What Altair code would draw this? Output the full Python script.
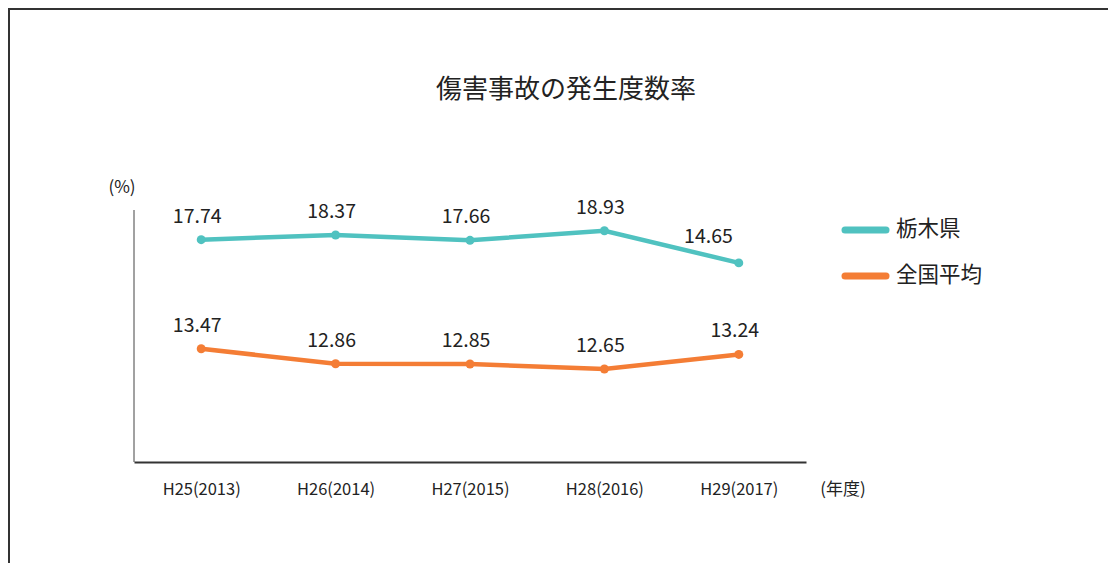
import altair as alt
import pandas as pd

# ---- data ----
years = ["H25(2013)", "H26(2014)", "H27(2015)", "H28(2016)", "H29(2017)"]
series_names = ["栃木県", "全国平均"]
tochigi = [17.74, 18.37, 17.66, 18.93, 14.65]
national = [13.47, 12.86, 12.85, 12.65, 13.24]
colors = ["#50C2C0", "#F47D35"]
title_text = "傷害事故の発生度数率"
y_unit = "(%)"
x_unit = "(年度)"

rows = []
for name, vals in zip(series_names, [tochigi, national]):
    for yr, v in zip(years, vals):
        rows.append({"year": yr, "series": name, "value": v, "label": f"{v:.2f}"})
df = pd.DataFrame(rows)
last_teal = (df["series"] == series_names[0]) & (df["year"] == years[-1])
df_main = df[~last_teal]
df_last = df[last_teal]

FONT = "Noto Sans CJK JP"
W, H = 672, 252

color_scale = alt.Scale(domain=series_names, range=colors)
# piecewise scale, as the original chart is drawn with an uneven vertical scale
y_scale = alt.Scale(domain=[12, 13.5, 14.5, 19.5], range=[175, 138, 54, 16.5], nice=False, zero=False)

x_enc = alt.X("year:N", sort=years, title=None,
              axis=alt.Axis(labelFontSize=16.5, labelFont=FONT, labelColor="#222",
                            ticks=False, domainColor="#333", domainWidth=2,
                            labelPadding=19, labelAngle=0, grid=False))
y_enc = alt.Y("value:Q", scale=y_scale, axis=None)

base = alt.Chart(df)

lines = base.mark_line(strokeWidth=4.5).encode(
    x=x_enc, y=y_enc,
    color=alt.Color("series:N", scale=color_scale, legend=None),
    detail="series:N",
)
points = base.mark_circle(size=80, opacity=1).encode(
    x=alt.X("year:N", sort=years), y=y_enc,
    color=alt.Color("series:N", scale=color_scale, legend=None),
)
labels = alt.Chart(df_main).mark_text(
    fontSize=19.5, font=FONT, color="#222", baseline="middle", dy=-23, dx=-4
).encode(x=alt.X("year:N", sort=years), y=y_enc, text="label:N")
label_last = alt.Chart(df_last).mark_text(
    fontSize=19.5, font=FONT, color="#222", baseline="middle", align="right", dy=-26, dx=-6
).encode(x=alt.X("year:N", sort=years), y=y_enc, text="label:N")

yaxis_line = alt.Chart(pd.DataFrame({"a": [0]})).mark_rule(color="#444", strokeWidth=1).encode(
    x=alt.value(0), y=alt.value(0), y2=alt.value(H)
)

title = alt.Chart(pd.DataFrame({"t": [title_text]})).mark_text(
    fontSize=26, font=FONT, color="#222", baseline="middle", align="center"
).encode(x=alt.value(432), y=alt.value(-120), text="t:N")

yunit = alt.Chart(pd.DataFrame({"t": [y_unit]})).mark_text(
    fontSize=17, font=FONT, color="#222", baseline="middle", align="center"
).encode(x=alt.value(-12), y=alt.value(-22), text="t:N")

xunit = alt.Chart(pd.DataFrame({"t": [x_unit]})).mark_text(
    fontSize=17, font=FONT, color="#222", baseline="middle", align="center"
).encode(x=alt.value(709), y=alt.value(H + 28), text="t:N")

border = alt.Chart(pd.DataFrame({"a": [0]})).mark_rect(
    fill=None, stroke="#333", strokeWidth=2
).encode(x=alt.value(-125), y=alt.value(-201), x2=alt.value(2000), y2=alt.value(2000))

legend_layers = []
for i, (name, col) in enumerate(zip(series_names, colors)):
    ly = 20 + 46 * i
    legend_layers.append(
        alt.Chart(pd.DataFrame({"s": [name]})).mark_rule(
            color=col, strokeWidth=7, strokeCap="round"
        ).encode(x=alt.value(711), x2=alt.value(752), y=alt.value(ly))
    )
    legend_layers.append(
        alt.Chart(pd.DataFrame({"s": [name]})).mark_text(
            fontSize=21.5, font=FONT, color="#222", align="left", baseline="middle"
        ).encode(x=alt.value(762), y=alt.value(ly), text="s:N")
    )

chart = alt.layer(
    border, yaxis_line, lines, points, labels, label_last, title, yunit, xunit, *legend_layers
).properties(
    width=W, height=H,
    autosize=alt.AutoSizeParams(type="none"),
    padding={"left": 126, "top": 202, "right": 302, "bottom": 101},
    background="white",
).configure_view(stroke=None)

chart.save("out.html", embed_options={"renderer": "svg", "actions": False})
